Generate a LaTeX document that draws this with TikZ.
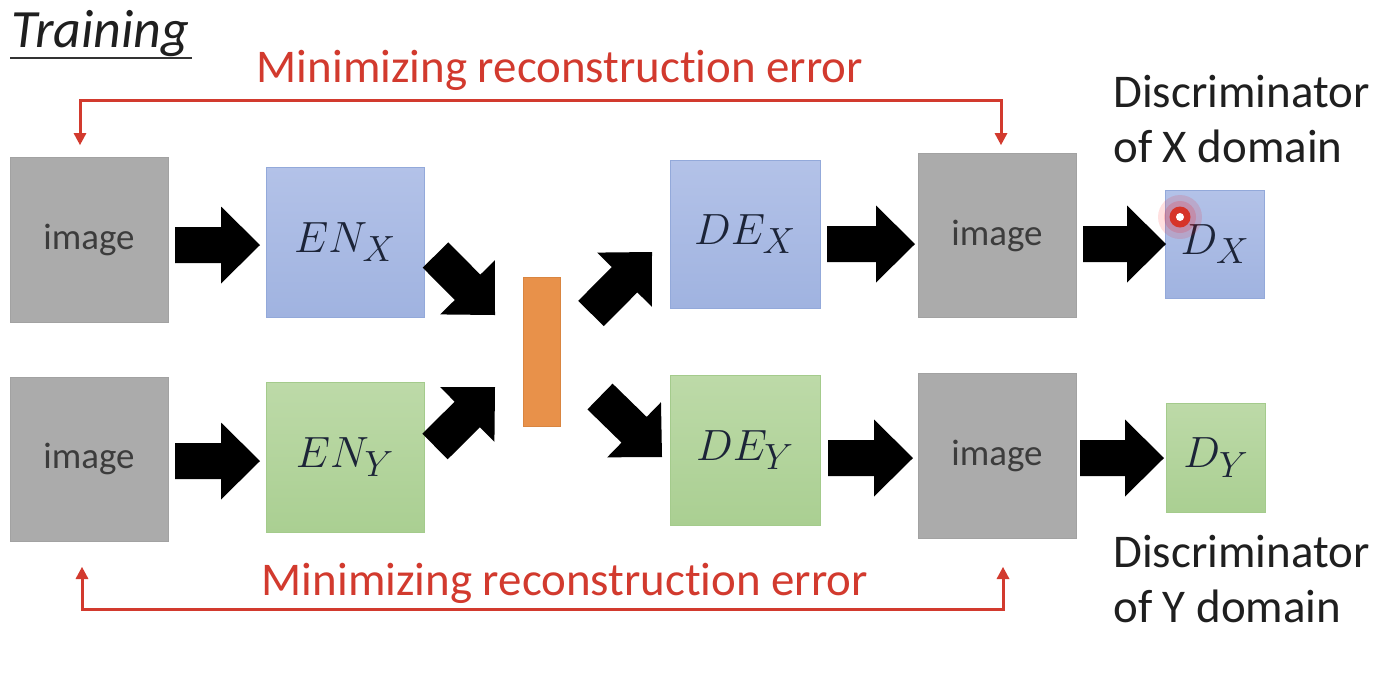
\documentclass[tikz,border=0pt]{standalone}
\usepackage{fontspec}
\setmainfont{Carlito}[Ligatures=NoCommon]
\usetikzlibrary{arrows.meta,calc}
\definecolor{grayfill}{HTML}{ABABAB}
\definecolor{grayedge}{HTML}{A2A2A2}
\definecolor{imgtext}{HTML}{3C3C3C}
\definecolor{bluetop}{HTML}{B3C2E8}
\definecolor{bluebot}{HTML}{A0B3E0}
\definecolor{blueedge}{HTML}{93A9DA}
\definecolor{greentop}{HTML}{BDDAA8}
\definecolor{greenbot}{HTML}{AACF92}
\definecolor{greenedge}{HTML}{A4CB8C}
\definecolor{orangefill}{HTML}{E8914A}
\definecolor{orangeedge}{HTML}{D98540}
\definecolor{redline}{HTML}{D23A2E}
\definecolor{mathtext}{HTML}{1C2438}
\tikzset{
  imgbox/.style={draw=grayedge, fill=grayfill, line width=0.5pt, minimum width=3.16cm,
    inner sep=0pt, font=\fontsize{21}{25}\selectfont, text=imgtext},
  bluebox/.style={draw=blueedge, top color=bluetop, bottom color=bluebot, line width=0.5pt,
    inner sep=0pt, font=\fontsize{31}{36}\selectfont, text=mathtext},
  greenbox/.style={draw=greenedge, top color=greentop, bottom color=greenbot, line width=0.5pt,
    inner sep=0pt, font=\fontsize{31}{36}\selectfont, text=mathtext},
  blkfill/.style={fill=black},
  redln/.style={draw=redline, line width=0.06cm, line cap=butt, line join=miter,
    {Triangle[length=0.24cm,width=0.26cm,line width=0pt]}-{Triangle[length=0.24cm,width=0.26cm,line width=0pt]}},
  redtxt/.style={text=redline, inner sep=0pt, font=\fontsize{26.7}{32}\selectfont},
  blacktxt/.style={text=black!88, inner sep=0pt, font=\fontsize{26.7}{32}\selectfont},
}
% block arrow from coordinate #1 to coordinate #2 (tip)
\newcommand\blockarrow[2]{%
  \coordinate (#2-hb) at ($(#2)!0.78cm!(#1)$);
  \fill[blkfill]
    ($(#1)!0.36cm!90:(#2)$) -- ($(#2-hb)!0.36cm!90:(#2)$) -- ($(#2-hb)!0.77cm!90:(#2)$)
    -- (#2) -- ($(#2-hb)!0.77cm!-90:(#2)$) -- ($(#2-hb)!0.36cm!-90:(#2)$)
    -- ($(#1)!0.36cm!-90:(#2)$) -- cycle;
}
\begin{document}
\begin{tikzpicture}[x=0.02cm,y=-0.02cm]
\useasboundingbox[fill=white] (0,0) rectangle (1382,674);

% title
\node[anchor=base west, inner sep=0pt, text=black!88, font=\fontsize{30.7}{36}\selectfont\itshape] (title) at (11,47) {Training};
\draw[black!80, line width=0.04cm] (title.base west) ++(-1,11) coordinate (ul1) -- ($(title.base east)+(2,11)$) coordinate (ul2);

% left column
\node[imgbox, minimum height=3.3cm] (img1) at (89,239.5) {image};
\node[imgbox, minimum height=3.28cm] (img2) at (89,459) {image};
% encoders
\node[bluebox, minimum width=3.16cm, minimum height=3.0cm] (enx) at (345,242) {$EN_X$};
\node[greenbox, minimum width=3.16cm, minimum height=3.0cm] (eny) at (345,457) {$EN_Y$};
% latent
\node[draw=orangeedge, fill=orangefill, line width=0.5pt, minimum width=0.74cm, minimum height=2.98cm, inner sep=0pt] (bar) at (541.5,351.5) {};
% decoders
\node[bluebox, minimum width=3.0cm, minimum height=2.96cm] (dex) at (745,234) {$DE_X$};
\node[greenbox, minimum width=3.0cm, minimum height=3.0cm] (dey) at (745,450) {$DE_Y$};
% reconstructed images
\node[imgbox, minimum height=3.28cm] (img3) at (997,235.5) {image};
\node[imgbox, minimum height=3.3cm] (img4) at (997,455.5) {image};
% discriminators
\node[bluebox, minimum width=1.98cm, minimum height=2.16cm] (dx) at (1215,244) {$D_X$};
\node[greenbox, minimum width=1.98cm, minimum height=2.18cm] (dy) at (1216,457.5) {$D_Y$};

% block arrow end points
\coordinate (a1s) at (175,245);  \coordinate (a1e) at (260,245);
\coordinate (a2s) at (175,461);  \coordinate (a2e) at (260,461);
\coordinate (a3s) at (827,244);  \coordinate (a3e) at (915,244);
\coordinate (a4s) at (1083,244); \coordinate (a4e) at (1166,244);
\coordinate (a5s) at (828,458);  \coordinate (a5e) at (913,458);
\coordinate (a6s) at (1080,458); \coordinate (a6e) at (1164,458);
\coordinate (d1s) at (435.5,255);  \coordinate (d1e) at (495,315);
\coordinate (d2s) at (435,446.5);  \coordinate (d2e) at (495,387);
\coordinate (d3s) at (591,313.5);  \coordinate (d3e) at (652,252);
\coordinate (d4s) at (600,396.5);  \coordinate (d4e) at (662,457);

\blockarrow{a1s}{a1e}
\blockarrow{a2s}{a2e}
\blockarrow{a3s}{a3e}
\blockarrow{a4s}{a4e}
\blockarrow{a5s}{a5e}
\blockarrow{a6s}{a6e}
\blockarrow{d1s}{d1e}
\blockarrow{d2s}{d2e}
\blockarrow{d3s}{d3e}
\blockarrow{d4s}{d4e}

% reconstruction loops
\coordinate (rt1) at (80,145);  \coordinate (rt2) at (1001,145);
\coordinate (rb1) at (82,567);  \coordinate (rb2) at (1003,567);
\draw[redln] (rt1) |- (541,100) -| (rt2);
\draw[redln] (rb1) |- (541,609) -| (rb2);
\node[redtxt, anchor=base] (toptxt) at (560,82) {Minimizing reconstruction error};
\node[redtxt, anchor=base] (bottxt) at (565,595) {Minimizing reconstruction error};

% discriminator labels
\node[blacktxt, anchor=base west] (dxl1) at (1113,107) {Discriminator};
\node[blacktxt, anchor=base west] (dxl2) at (1113,162) {of X domain};
\node[blacktxt, anchor=base west] (dyl1) at (1113,567) {Discriminator};
\node[blacktxt, anchor=base west] (dyl2) at (1113,622) {of Y domain};

% laser pointer
\fill[red, opacity=0.12] (1180,217) circle (0.44cm);
\fill[red, opacity=0.15] (1180,217) circle (0.32cm);
\fill[redline!90!red] (1180,217) circle (0.21cm);
\fill[white] (1180,217) circle (0.08cm);
\end{tikzpicture}
\end{document}
